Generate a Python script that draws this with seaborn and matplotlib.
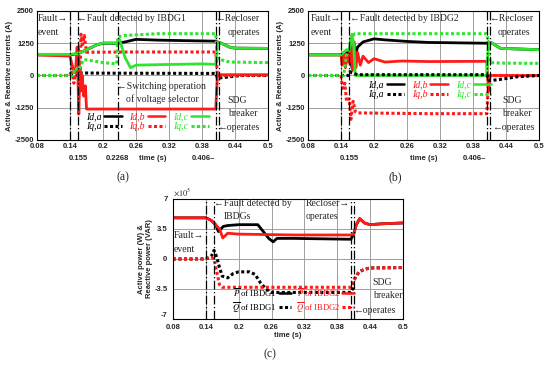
import matplotlib
matplotlib.use("Agg")
import matplotlib.pyplot as plt
import seaborn as sns
from matplotlib.lines import Line2D

# ---------------- data: panel (a) currents of IBDG1 (A) ----------------
ta_ida = [0.08, 0.14, 0.155, 0.17, 0.19, 0.2, 0.2268, 0.24, 0.26, 0.3, 0.35, 0.405, 0.408, 0.415, 0.43, 0.44, 0.5]
va_ida = [800, 800, 850, 1000, 1200, 1250, 1250, 1300, 1400, 1370, 1350, 1330, 1300, 1250, 1100, 1060, 1050]

ta_idb = [0.08, 0.14, 0.145, 0.15, 0.153, 0.156, 0.158, 0.16, 0.162, 0.165, 0.168, 0.17, 0.25, 0.405, 0.408, 0.5]
va_idb = [800, 750, 300, 150, 1100, -1500, 300, -600, 0, -800, -400, -1300, -1300, -1300, 30, 30]

ta_idc = [0.08, 0.14, 0.155, 0.17, 0.19, 0.2, 0.2268, 0.23, 0.24, 0.25, 0.26, 0.3, 0.38, 0.405, 0.408, 0.415, 0.43, 0.44, 0.5]
va_idc = [820, 820, 850, 1000, 1200, 1260, 1260, 1400, 700, 300, 400, 420, 450, 430, 1300, 1250, 1100, 1060, 1050]

ta_iqa = [0.08, 0.153, 0.156, 0.2, 0.405, 0.408, 0.42, 0.43, 0.45, 0.5]
va_iqa = [0, 0, 100, 90, 80, -100, -80, -50, 0, 0]

ta_iqb = [0.08, 0.14, 0.143, 0.147, 0.15, 0.155, 0.158, 0.16, 0.163, 0.166, 0.17, 0.25, 0.405, 0.408, 0.5]
va_iqb = [0, 0, 300, -300, 100, 1100, -200, 1600, 1200, 1550, 900, 910, 910, 0, 0]

ta_iqc = [0.08, 0.145, 0.15, 0.155, 0.165, 0.2, 0.225, 0.2268, 0.24, 0.3, 0.405, 0.408, 0.43, 0.5]
va_iqc = [0, 0, 300, 200, 620, 500, 450, 1500, 1550, 1620, 1620, 650, 520, 500]

# ---------------- data: panel (b) currents of IBDG2 (A) ----------------
tb_ida = [0.08, 0.14, 0.155, 0.16, 0.165, 0.17, 0.18, 0.2, 0.22, 0.26, 0.3, 0.405, 0.408, 0.415, 0.43, 0.5]
vb_ida = [800, 800, 900, 300, 700, 1100, 1300, 1420, 1380, 1320, 1280, 1250, 1300, 1250, 1050, 1000]

tb_idb = [0.08, 0.14, 0.142, 0.145, 0.148, 0.152, 0.155, 0.158, 0.161, 0.164, 0.167, 0.17, 0.175, 0.18, 0.19, 0.2, 0.22, 0.25, 0.3, 0.405, 0.408, 0.411, 0.5]
vb_idb = [800, 800, 400, 900, 300, 800, 500, 1500, 200, 1300, 300, 900, 400, 750, 500, 650, 520, 560, 540, 550, -600, 0, 0]

tb_idc = [0.08, 0.14, 0.145, 0.15, 0.155, 0.16, 0.163, 0.166, 0.405, 0.408, 0.415, 0.43, 0.5]
vb_idc = [800, 800, 900, 1000, 1000, 1600, 1200, 0, 0, 1300, 1250, 1050, 1000]

tb_iqa = [0.08, 0.153, 0.156, 0.16, 0.17, 0.405, 0.41, 0.43, 0.46, 0.5]
vb_iqa = [0, 0, 150, 100, 30, 30, -200, -150, -50, 0]

tb_iqb = [0.08, 0.14, 0.143, 0.147, 0.15, 0.155, 0.158, 0.162, 0.166, 0.17, 0.3, 0.405, 0.408, 0.411, 0.5]
vb_iqb = [0, 0, -500, -300, -1000, -900, -1700, -1000, -1400, -1450, -1480, -1480, -300, 0, 0]

tb_iqc = [0.08, 0.145, 0.15, 0.155, 0.16, 0.165, 0.405, 0.408, 0.411, 0.43, 0.5]
vb_iqc = [0, 0, 800, 1000, 1500, 1620, 1620, 1300, 500, 480, 470]

# ---------------- data: panel (c) powers (x 1e5 W / VAR) ----------------
tc_p1 = [0.08, 0.14, 0.15, 0.158, 0.163, 0.172, 0.18, 0.2, 0.235, 0.245, 0.255, 0.263, 0.27, 0.3, 0.405, 0.41, 0.415, 0.421, 0.43, 0.44, 0.46, 0.5]
vc_p1 = [4.8, 4.8, 4.5, 4.0, 3.2, 3.8, 3.9, 4.0, 4.0, 3.2, 2.4, 2.0, 2.4, 2.4, 2.3, 2.9, 4.0, 4.7, 4.2, 4.0, 4.1, 4.2]

tc_p2 = [0.08, 0.14, 0.15, 0.165, 0.171, 0.18, 0.2, 0.3, 0.405, 0.41, 0.415, 0.421, 0.43, 0.44, 0.46, 0.5]
vc_p2 = [4.8, 4.8, 4.5, 3.5, 2.45, 3.0, 2.9, 2.8, 2.8, 2.9, 4.0, 4.7, 4.2, 4.0, 4.1, 4.2]

tc_q1 = [0.08, 0.14, 0.15, 0.155, 0.16, 0.165, 0.17, 0.18, 0.19, 0.2, 0.22, 0.23, 0.24, 0.25, 0.26, 0.3, 0.405, 0.408, 0.41, 0.415, 0.42, 0.43, 0.44, 0.5]
vc_q1 = [0, 0, 0.3, 1.0, 0.2, -1.0, -2.0, -2.2, -1.7, -1.5, -1.5, -1.8, -2.8, -3.5, -3.9, -3.9, -3.9, -3.5, -2.5, -2.0, -1.5, -1.2, -1.05, -1.0]

tc_q2 = [0.08, 0.14, 0.15, 0.155, 0.16, 0.165, 0.17, 0.3, 0.405, 0.408, 0.41, 0.415, 0.42, 0.43, 0.44, 0.5]
vc_q2 = [0, 0, 0.2, 0.0, -1.5, -3.0, -3.3, -3.3, -3.3, -3.0, -2.5, -2.0, -1.5, -1.2, -1.05, -1.0]

x_ticks = [0.08, 0.14, 0.2, 0.26, 0.32, 0.38, 0.44, 0.5]
x_tick_labels = ["0.08", "0.14", "0.2", "0.26", "0.32", "0.38", "0.44", "0.5"]
i_ticks = [-2500, -1250, 0, 1250, 2500]
p_ticks = [-7, -3.5, 0, 3.5, 7]
p_tick_labels = ["-7", "-3.5", "0", "3.5", "7"]

# ---------------- style ----------------
sns.set_style("whitegrid")
plt.rcParams["font.family"] = ["Liberation Sans", "DejaVu Sans"]
plt.rcParams["axes.unicode_minus"] = False
plt.rcParams["mathtext.fontset"] = "stix"

RED = "#ff1a1a"
GREEN = "#2ee62e"
BLACK = "#000000"
SERIF = ["Liberation Serif", "DejaVu Serif"]
DOT = (0, (1, 0.8))
MARK = (0, (7, 2, 1, 2))
TS = 7  # annotation size

fig = plt.figure(figsize=(5.5, 3.66), dpi=100)
ax_a = fig.add_axes([0.0673, 0.6175, 0.42, 0.3525])
ax_b = fig.add_axes([0.56, 0.6175, 0.42, 0.3525])
ax_c = fig.add_axes([0.3145, 0.1284, 0.418, 0.328])


def style_axes(ax, yticks, ylim):
    ax.set_xlim(0.08, 0.5)
    ax.set_ylim(*ylim)
    ax.set_xticks(x_ticks)
    ax.set_xticklabels(x_tick_labels)
    ax.set_yticks(yticks)
    ax.tick_params(length=0, labelsize=5.5, pad=2)
    for lab in ax.get_xticklabels() + ax.get_yticklabels():
        lab.set_fontweight("bold")
    ax.grid(True, color="#a0a0a0", lw=0.7)
    for s in ax.spines.values():
        s.set_color("black")
        s.set_linewidth(0.8)


def draw(ax, t, v, color, ls, lw=2.0):
    sns.lineplot(x=t, y=v, ax=ax, color=color, linestyle=ls, lw=lw,
                 estimator=None, sort=False, legend=False)
    ax.lines[-1].set_dash_capstyle("butt")


def markers(ax, xs):
    for x in xs:
        ax.axvline(x, color="black", lw=0.9, linestyle=MARK, zorder=5)


def note(ax, x, y, s, ha="left"):
    ax.text(x, y, s, fontsize=TS, family=SERIF, ha=ha, va="center", zorder=6)


# ---------------- panel (a) ----------------
draw(ax_a, ta_ida, va_ida, BLACK, "-")
draw(ax_a, ta_iqa, va_iqa, BLACK, DOT, 2.2)
draw(ax_a, ta_idb, va_idb, RED, "-")
draw(ax_a, ta_iqb, va_iqb, RED, DOT, 2.2)
draw(ax_a, ta_idc, va_idc, GREEN, "-")
draw(ax_a, ta_iqc, va_iqc, GREEN, DOT, 2.2)
style_axes(ax_a, i_ticks, (-2500, 2500))
markers(ax_a, [0.14, 0.155, 0.2268, 0.406, 0.41])
ax_a.set_ylabel("Active & Reactive currents (A)", fontsize=5.5, fontweight="bold", labelpad=1)
note(ax_a, 0.081, 2190, "Fault\u2192")
note(ax_a, 0.081, 1650, "event")
note(ax_a, 0.153, 2190, "\u2190Fault detected by IBDG1")
note(ax_a, 0.404, 2190, "\u2190Recloser")
note(ax_a, 0.427, 1650, "operates")
note(ax_a, 0.225, -445, "\u2190Switching operation")
note(ax_a, 0.242, -910, "of voltage selector")
note(ax_a, 0.427, -950, "SDG")
note(ax_a, 0.427, -1490, "breaker")
note(ax_a, 0.407, -2035, "\u2190operates")

# ---------------- panel (b) ----------------
draw(ax_b, tb_ida, vb_ida, BLACK, "-")
draw(ax_b, tb_idb, vb_idb, RED, "-")
draw(ax_b, tb_iqb, vb_iqb, RED, DOT, 2.2)
draw(ax_b, tb_idc, vb_idc, GREEN, "-")
draw(ax_b, tb_iqa, vb_iqa, BLACK, DOT, 2.2)
draw(ax_b, tb_iqc, vb_iqc, GREEN, DOT, 2.2)
style_axes(ax_b, i_ticks, (-2500, 2500))
markers(ax_b, [0.14, 0.155, 0.406, 0.41])
ax_b.set_ylabel("Active & Reactive currents (A)", fontsize=5.5, fontweight="bold", labelpad=1)
note(ax_b, 0.084, 2190, "Fault\u2192")
note(ax_b, 0.084, 1650, "event")
note(ax_b, 0.156, 2190, "\u2190Fault detected by IBDG2")
note(ax_b, 0.409, 2190, "\u2190Recloser")
note(ax_b, 0.425, 1650, "operates")
note(ax_b, 0.433, -950, "SDG")
note(ax_b, 0.433, -1490, "breaker")
note(ax_b, 0.415, -2035, "\u2190operates")

# current legends (label before the line sample)
cur_handles = [Line2D([], [], color=BLACK, lw=1.8), Line2D([], [], color=BLACK, lw=2.2, linestyle=DOT),
               Line2D([], [], color=RED, lw=1.8), Line2D([], [], color=RED, lw=2.2, linestyle=DOT),
               Line2D([], [], color=GREEN, lw=1.8), Line2D([], [], color=GREEN, lw=2.2, linestyle=DOT)]
cur_labels = ["Id,a", "Iq,a", "Id,b", "Iq,b", "Id,c", "Iq,c"]
for ax, anchor in [(ax_a, (0.19, 0.03)), (ax_b, (0.24, 0.28))]:
    ax.legend(cur_handles, cur_labels, ncol=3, loc="lower left", bbox_to_anchor=anchor,
              frameon=False, markerfirst=False, handlelength=1.8, handletextpad=0.3,
              columnspacing=0.8, labelspacing=0.1, borderpad=0, labelcolor="linecolor",
              prop=dict(family=SERIF, style="italic", size=TS))

# ---------------- panel (c) ----------------
draw(ax_c, tc_p1, vc_p1, BLACK, "-")
draw(ax_c, tc_p2, vc_p2, RED, "-")
draw(ax_c, tc_q1, vc_q1, BLACK, DOT, 2.2)
draw(ax_c, tc_q2, vc_q2, RED, DOT, 2.2)
style_axes(ax_c, p_ticks, (-7, 7))
ax_c.set_yticklabels(p_tick_labels)
ax_c.tick_params(axis="y", pad=4)
ax_c.tick_params(axis="x", pad=3.5)
for lab in ax_c.get_yticklabels():
    lab.set_fontweight("bold")
    lab.set_verticalalignment("bottom" if lab.get_text() == "-7" else "center_baseline")
markers(ax_c, [0.14, 0.155, 0.406, 0.41])
ax_c.set_ylabel("Active power (W) &\nReactive power (VAR)", fontsize=5.5, fontweight="bold", labelpad=1)
ax_c.text(0.0, 1.01, r"$\times10^5$", transform=ax_c.transAxes, fontsize=6, va="bottom")
note(ax_c, 0.155, 6.5, "\u2190Fault detected by")
note(ax_c, 0.173, 4.9, "IBDGs")
note(ax_c, 0.323, 6.5, "Recloser\u2192")
note(ax_c, 0.323, 4.9, "operates")
note(ax_c, 0.082, 2.7, "Fault\u2192")
note(ax_c, 0.082, 1.05, "event")
note(ax_c, 0.445, -2.7, "SDG")
note(ax_c, 0.445, -4.3, "breaker")
note(ax_c, 0.409, -5.95, "\u2190operates")
pow_handles = [Line2D([], [], color=BLACK, lw=1.8), Line2D([], [], color=BLACK, lw=2.2, linestyle=DOT),
               Line2D([], [], color=RED, lw=1.8), Line2D([], [], color=RED, lw=2.2, linestyle=DOT)]
pow_labels = [r"$\overline{P}$ of IBDG1", r"$\overline{Q}$ of IBDG1", r"$\overline{P}$ of IBDG2", r"$\overline{Q}$ of IBDG2"]
ax_c.legend(pow_handles, pow_labels, ncol=2, loc="lower left", bbox_to_anchor=(0.24, 0.0),
            frameon=False, markerfirst=False, handlelength=1.4, handletextpad=0.25,
            columnspacing=0.5, labelspacing=0.1, borderpad=0, labelcolor="linecolor",
            prop=dict(family=SERIF, size=6.2))

# ---------------- x labels, extra tick notes, panel tags ----------------
for ax, subs in [(ax_a, [(0.155, "0.155"), (0.2268, "0.2268")]), (ax_b, [(0.155, "0.155")]), (ax_c, [])]:
    ax.set_xlabel("time (s)", fontsize=5.5, fontweight="bold", labelpad=1 if not subs else 4)
    for x, s in subs:
        ax.text(x, -0.12, s, transform=ax.get_xaxis_transform(), fontsize=5.5,
                fontweight="bold", ha="center", va="top")
for ax in [ax_a, ax_b]:
    ax.text(0.404, -0.12, "0.406\u2013", transform=ax.get_xaxis_transform(), fontsize=5.5,
            fontweight="bold", ha="right", va="top")

fig.text(0.2236, 0.516, "(a)", fontsize=8.5, family=SERIF, ha="center", va="center")
fig.text(0.718, 0.516, "(b)", fontsize=8.5, family=SERIF, ha="center", va="center")
fig.text(0.491, 0.033, "(c)", fontsize=8.5, family=SERIF, ha="center", va="center")

fig.savefig("out.png", dpi=100)
